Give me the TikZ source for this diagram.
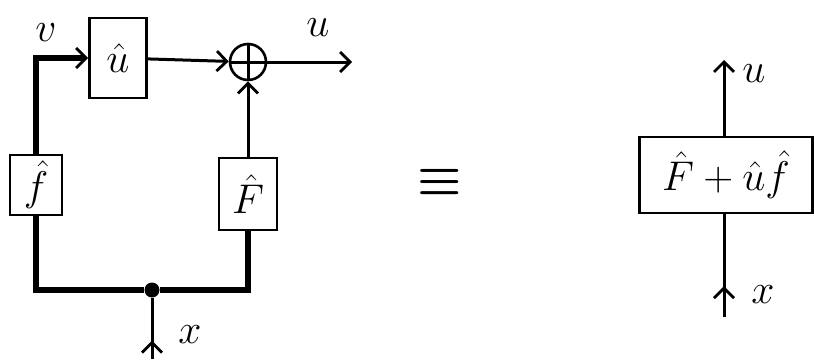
\documentclass[tikz,border=0pt]{standalone}
\usepackage{amsmath}
\usepackage{tikz}
\usetikzlibrary{arrows.meta,positioning,decorations.markings}

\begin{document}
\begin{tikzpicture}[
 x=0.5pt,y=-0.5pt,
 >={Straight Barb[length=5pt,width=10pt,line width=1.4pt]},
 font=\fontsize{20}{24}\selectfont,
 blk/.style={draw,line width=1.3pt,inner sep=0pt,fill=white},
 sumnode/.style={draw,circle,line width=1.3pt,minimum size=18pt,inner sep=0pt},
 wire/.style={line width=1.5pt},
 heavy/.style={line width=2.6pt},
 midarrow/.style={postaction={decorate},
   decoration={markings,mark=at position #1 with {\arrow{>}}}}
]
\useasboundingbox (0,0) rectangle (814,359);
% left diagram
\node[blk,minimum width=28.5pt,minimum height=40pt] (uhat) at (118,58) {$\hat u$};
\node[sumnode] (sum) at (248,62) {};
\node[blk,minimum width=26pt,minimum height=30pt] (fhat) at (36,185) {$\hat f$};
\node[blk,minimum width=29pt,minimum height=36pt] (Fhat) at (248,194) {$\hat F$};
\node[circle,fill,inner sep=0pt,minimum size=7.5pt] (join) at (152,290) {};
\coordinate (uout) at (352,62);
\coordinate (xin) at (152,359);
\node (vlabel) at (46,33) {$v$};
\node (ulabel) at (318,28) {$u$};
\node (xlabel) at (190,335) {$x$};
\draw[heavy,->] (fhat.north) |- (uhat.west);
\draw[wire,->] (uhat) -- (sum);
\draw[wire,->] (sum) -- (uout);
\draw[wire,->] (Fhat) -- (sum);
\draw[wire] (sum.north) -- (sum.south) (sum.west) -- (sum.east);
\draw[heavy] (fhat.south) |- (join) -| (Fhat.south);
\draw[wire,midarrow=0.3] (xin) -- (join);
% equivalence
\node[font=\fontsize{36}{40}\selectfont] (equiv) at (440,182) {$\boldsymbol{\equiv}$};
% right diagram
\node[blk,minimum width=86.5pt,minimum height=38pt] (combo) at (726,175) {$\hat F+\hat u\hat f$};
\coordinate (uout2) at (724,60);
\coordinate (xin2) at (724,317);
\node (ulabel2) at (754,74) {$u$};
\node (xlabel2) at (763,295) {$x$};
\draw[wire,->] (combo.north -| uout2) -- (uout2);
\draw[wire,midarrow=0.3] (xin2) -- (combo.south -| xin2);
\end{tikzpicture}
\end{document}
